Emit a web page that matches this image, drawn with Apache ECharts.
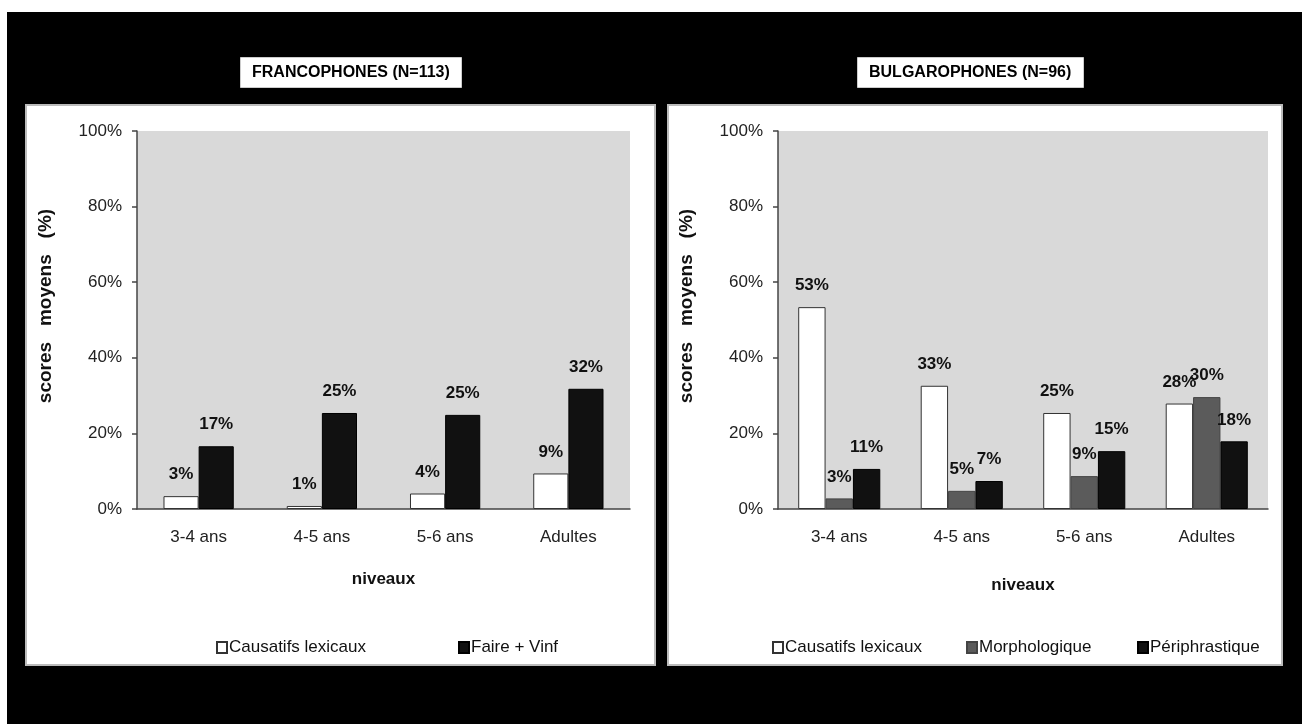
<!DOCTYPE html>
<html><head><meta charset="utf-8">
<script src="https://cdn.jsdelivr.net/npm/echarts@6/dist/echarts.min.js"></script>
<style>html,body{margin:0;padding:0;background:#fff}#c{width:1302px;height:724px}</style>
</head><body><div id="c"></div>
<script>
const categories = ['3-4 ans', '4-5 ans', '5-6 ans', 'Adultes'];
const frLexicaux = [3.4, 0.8, 4.1, 9.4];
const frFaire = [16.6, 25.4, 24.9, 31.8];
const bgLexicaux = [53.4, 32.6, 25.4, 27.9];
const bgMorpho = [2.8, 4.8, 8.7, 29.6];
const bgPeri = [10.6, 7.4, 15.3, 17.9];
const titleFr = 'FRANCOPHONES (N=113)';
const titleBg = 'BULGAROPHONES (N=96)';
const yName = 'scores   moyens   (%)';
const xName = 'niveaux';

const FONT = '"Liberation Sans", Arial, sans-serif';

const chart = echarts.init(document.getElementById('c'));

function xAxis(gi, gap) {
  return {
    type: 'category', gridIndex: gi, data: categories,
    name: xName, nameLocation: 'middle', nameGap: gap,
    nameTextStyle: {fontFamily: FONT, fontWeight: 'bold', fontSize: 17, color: '#111'},
    axisLine: {lineStyle: {color: '#444', width: 1.5}},
    axisTick: {length: 8, lineStyle: {color: '#444', width: 1.5}},
    axisLabel: {fontFamily: FONT, fontSize: 17, color: '#222', margin: 20}
  };
}
function yAxis(gi) {
  return {
    type: 'value', gridIndex: gi, min: 0, max: 100, interval: 20,
    name: yName, nameLocation: 'middle', nameGap: 82,
    nameTextStyle: {fontFamily: FONT, fontWeight: 'bold', fontSize: 19, color: '#111', padding: [0, 0, 0, 28]},
    axisLine: {show: true, lineStyle: {color: '#444', width: 1.5}},
    axisTick: {show: true, length: 5, lineStyle: {color: '#444', width: 1.5}},
    axisLabel: {formatter: '{value}%', fontFamily: FONT, fontSize: 17, color: '#222', margin: 15},
    splitLine: {show: false}
  };
}
const lbl = {
  show: true, position: 'top', distance: 13,
  formatter: p => Math.round(p.value) + '%',
  fontFamily: FONT, fontWeight: 'bold', fontSize: 17, color: '#111'
};
function bar(name, data, xi, color, border, gapCat) {
  return {
    type: 'bar', name, data, xAxisIndex: xi, yAxisIndex: xi,
    barGap: '0%', barCategoryGap: gapCat,
    itemStyle: {color, borderColor: border, borderWidth: 1},
    label: lbl
  };
}
function legend(name, left) {
  return {
    data: [name], left, top: 634, icon: 'rect', itemWidth: 10, itemHeight: 11, itemGap: 0,
    textStyle: {fontFamily: FONT, fontSize: 17, color: '#111', padding: [0, 0, 0, -3]},
    selectedMode: false
  };
}
const titleStyle = {fontFamily: FONT, fontWeight: 'bold', fontSize: 16, color: '#000'};

chart.setOption({
  backgroundColor: '#000',
  animation: false,
  graphic: [
    {type: 'rect', shape: {x: 0, y: 0, width: 1302, height: 12}, style: {fill: '#fff'}},
    {type: 'rect', shape: {x: 0, y: 0, width: 7, height: 724}, style: {fill: '#fff'}},
    {type: 'rect', shape: {x: 26, y: 105, width: 629, height: 560}, style: {fill: '#fff', stroke: '#bbb', lineWidth: 2}, z: -10},
    {type: 'rect', shape: {x: 668, y: 105, width: 614, height: 560}, style: {fill: '#fff', stroke: '#bbb', lineWidth: 2}, z: -10}
  ],
  title: [
    {text: titleFr, left: 240, top: 57, backgroundColor: '#fff', padding: [8, 12, 7, 12],
     borderColor: '#ccc', borderWidth: 1, textStyle: titleStyle},
    {text: titleBg, left: 857, top: 57, backgroundColor: '#fff', padding: [8, 12, 7, 12],
     borderColor: '#ccc', borderWidth: 1, textStyle: titleStyle}
  ],
  legend: [
    legend('Causatifs lexicaux', 211),
    legend('Faire + Vinf', 453),
    legend('Causatifs lexicaux ', 767),
    legend('Morphologique', 961),
    legend('Périphrastique', 1132)
  ],
  grid: [
    {left: 137, top: 131, width: 493, height: 378, show: true, backgroundColor: '#d9d9d9', borderWidth: 0},
    {left: 778, top: 131, width: 490, height: 378, show: true, backgroundColor: '#d9d9d9', borderWidth: 0}
  ],
  xAxis: [xAxis(0, 62), xAxis(1, 68)],
  yAxis: [yAxis(0), yAxis(1)],
  series: [
    bar('Causatifs lexicaux', frLexicaux, 0, '#fff', '#333', '43%'),
    bar('Faire + Vinf', frFaire, 0, '#111', '#000', '43%'),
    bar('Causatifs lexicaux ', bgLexicaux, 1, '#fff', '#333', '33%'),
    bar('Morphologique', bgMorpho, 1, '#5b5b5b', '#444', '33%'),
    bar('Périphrastique', bgPeri, 1, '#111', '#000', '33%')
  ]
});
</script></body></html>
